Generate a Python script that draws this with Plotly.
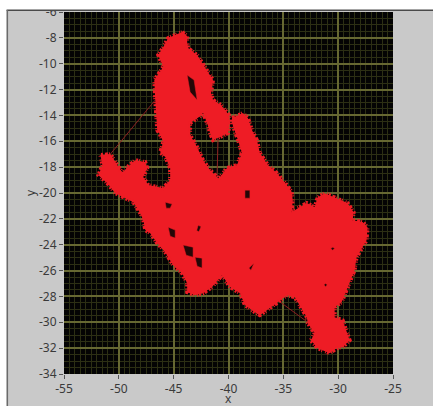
import plotly.graph_objects as go

outline_x = [-44.23,-43.77,-43.77,-43.68,-42.86,-42.32,-41.77,-41.41,-41.59,-41.41,-40.68,-39.95,-39.86,-40.05,-40.77,-41.41,-41.68,-41.95,-42.32,-42.68,-43.50,-43.50,-42.86,-42.32,-41.68,-40.95,-40.77,-40.14,-39.23,-38.77,-39.14,-39.68,-39.68,-38.68,-38.23,-37.86,-37.41,-37.14,-36.41,-35.59,-34.68,-34.23,-34.14,-34.23,-33.68,-32.86,-32.14,-31.86,-31.23,-30.14,-29.14,-28.59,-28.68,-27.77,-27.32,-27.41,-28.32,-28.50,-29.23,-29.68,-30.32,-30.32,-29.59,-29.23,-28.95,-29.59,-30.14,-30.77,-31.86,-32.50,-32.14,-32.77,-32.86,-33.95,-34.68,-35.50,-36.23,-37.14,-37.59,-38.50,-38.95,-39.86,-40.59,-41.50,-42.32,-43.05,-43.77,-43.77,-44.23,-45.05,-45.77,-46.50,-47.14,-47.59,-47.77,-48.05,-48.68,-49.59,-50.32,-51.05,-51.86,-51.50,-51.68,-50.77,-50.14,-49.68,-49.23,-48.50,-47.59,-47.41,-47.77,-47.32,-45.95,-45.32,-45.32,-45.77,-46.23,-45.95,-46.23,-46.50,-46.68,-46.77,-45.95,-46.41,-45.95,-45.50,-44.86,-44.23]
outline_y = [-7.55,-7.86,-8.32,-8.79,-9.33,-10.10,-10.88,-11.26,-12.27,-12.81,-13.20,-13.97,-14.59,-15.37,-15.67,-15.91,-15.37,-14.59,-13.82,-14.13,-14.59,-15.52,-16.45,-17.46,-18.23,-18.85,-18.77,-18.07,-17.84,-16.91,-15.91,-14.59,-14.20,-13.82,-14.20,-15.13,-15.91,-16.91,-17.84,-18.46,-19.39,-19.93,-20.55,-21.48,-21.17,-20.78,-21.09,-20.32,-20.01,-20.40,-20.78,-21.48,-22.10,-22.25,-22.64,-23.65,-24.96,-25.97,-27.52,-28.45,-28.83,-29.61,-29.84,-30.61,-31.39,-31.93,-32.01,-32.39,-32.01,-31.39,-30.85,-30.07,-29.61,-28.06,-27.90,-28.45,-28.91,-29.45,-29.22,-28.68,-27.75,-27.28,-26.36,-27.28,-27.75,-27.90,-27.67,-26.98,-26.20,-25.58,-24.58,-23.88,-23.11,-22.87,-22.10,-21.56,-20.71,-20.32,-20.01,-19.24,-18.62,-17.84,-17.07,-16.99,-17.84,-18.46,-18.00,-17.46,-17.61,-18.07,-18.77,-19.39,-19.62,-19.00,-18.07,-17.22,-16.84,-16.06,-15.52,-15.13,-12.81,-11.26,-10.26,-9.33,-8.71,-8.01,-7.78,-7.55]

hole_x = [-43.77,-43.14,-42.86,-43.50,-43.77,None,-44.14,-43.23,-43.23,-43.86,-44.14,None,-43.05,-42.41,-42.41,-42.86,-43.05,None,-45.50,-44.86,-44.86,-45.32,-45.50,None,-45.77,-45.14,-45.32,-45.68,-45.77,None,-38.50,-38.05,-38.05,-38.50,-38.50,None,-37.68,-37.95,-38.14,-37.68,None,-30.50,-30.32,-30.50,-30.68,-30.50,None,-31.14,-31.00,-31.14,-31.30,-31.14,None,-42.77,-42.50,-42.70,-42.90,-42.77]
hole_y = [-10.88,-11.26,-12.81,-12.19,-10.88,None,-24.03,-24.19,-24.96,-24.81,-24.03,None,-24.96,-25.04,-25.81,-25.66,-24.96,None,-22.64,-22.87,-23.49,-23.34,-22.64,None,-20.71,-20.86,-21.17,-21.17,-20.71,None,-19.78,-19.78,-20.40,-20.40,-19.78,None,-25.43,-25.97,-25.81,-25.43,None,-24.20,-24.27,-24.42,-24.30,-24.20,None,-27.00,-27.10,-27.25,-27.10,-27.00,None,-22.50,-22.60,-23.00,-22.90,-22.50]

stray_x = [-50.77,-46.68,None,-40.95,-41.05,None,-35.50,-32.77]
stray_y = [-16.99,-12.81,None,-15.80,-18.80,None,-28.30,-30.00]

x_ticks = [-55,-50,-45,-40,-35,-30,-25]
y_ticks = [-6,-8,-10,-12,-14,-16,-18,-20,-22,-24,-26,-28,-30,-32,-34]

RED = "#ee1c25"
W, H = 433, 406
L, R, T, B = 63.5, 393, 12, 374

fig = go.Figure()
fig.add_trace(go.Scatter(x=stray_x, y=stray_y, mode="lines", line=dict(color="#8c2022", width=1), hoverinfo="skip"))
fig.add_trace(go.Scatter(x=outline_x, y=outline_y, mode="lines", fill="toself", fillcolor=RED,
                         line=dict(color=RED, width=4, dash="3px,1px,1px,2px,2px,1px,1px,3px,1px,1px,2px,2px"), hoverinfo="skip"))
fig.add_trace(go.Scatter(x=hole_x, y=hole_y, mode="lines", fill="toself", fillcolor="#240707",
                         line=dict(color=RED, width=0.5), hoverinfo="skip"))

def px(v): return (v - L) / (R - L)
def py(v): return 1 - (v - T) / (B - T)

shapes = [
    dict(type="rect", xref="paper", yref="paper", x0=px(-5), x1=px(W+5), y0=py(10.5), y1=py(-5), fillcolor="white", line_width=0, layer="above"),
    dict(type="rect", xref="paper", yref="paper", x0=px(-5), x1=px(6), y0=py(H+5), y1=py(-5), fillcolor="white", line_width=0, layer="above"),
    dict(type="rect", xref="paper", yref="paper", x0=px(6), x1=px(W+5), y0=py(11), y1=py(9.5), fillcolor="#4a4a4a", line_width=0, layer="above"),
    dict(type="rect", xref="paper", yref="paper", x0=px(6), x1=px(7.5), y0=py(H+5), y1=py(10), fillcolor="#6a6a6a", line_width=0, layer="above"),
]

font = dict(family="Noto Sans", size=12, color="#3a3a3a")
axis = dict(showgrid=True, gridcolor="#666832", gridwidth=1.5, zeroline=False, ticks="outside", ticklen=4,
            tickcolor="#555555", tickwidth=1, tickfont=font, showline=False,
            minor=dict(showgrid=True, dtick=0.5, gridcolor="#2c2f14", gridwidth=1))

fig.update_layout(
    width=W, height=H, showlegend=False, paper_bgcolor="#c9c9c9", plot_bgcolor="#040404",
    margin=dict(l=L, r=W - R, t=T, b=H - B, autoexpand=False),
    font=font, shapes=shapes,
    annotations=[dict(text="x", xref="paper", yref="paper", x=0.5, y=py(398), xanchor="center", yanchor="middle",
                      showarrow=False, font=font)],
    xaxis=dict(axis, range=[-55, -25], tickmode="array", tickvals=x_ticks, ticktext=[str(v) for v in x_ticks]),
    yaxis=dict(axis, range=[-34, -6], tickmode="array", tickvals=y_ticks, ticktext=[str(v) for v in y_ticks],
               title=dict(text="y", font=font, standoff=0)),
)
fig.write_html("out.html", config={"displayModeBar": False},
               post_script="document.body.style.margin='0';document.body.style.overflow='hidden';")
